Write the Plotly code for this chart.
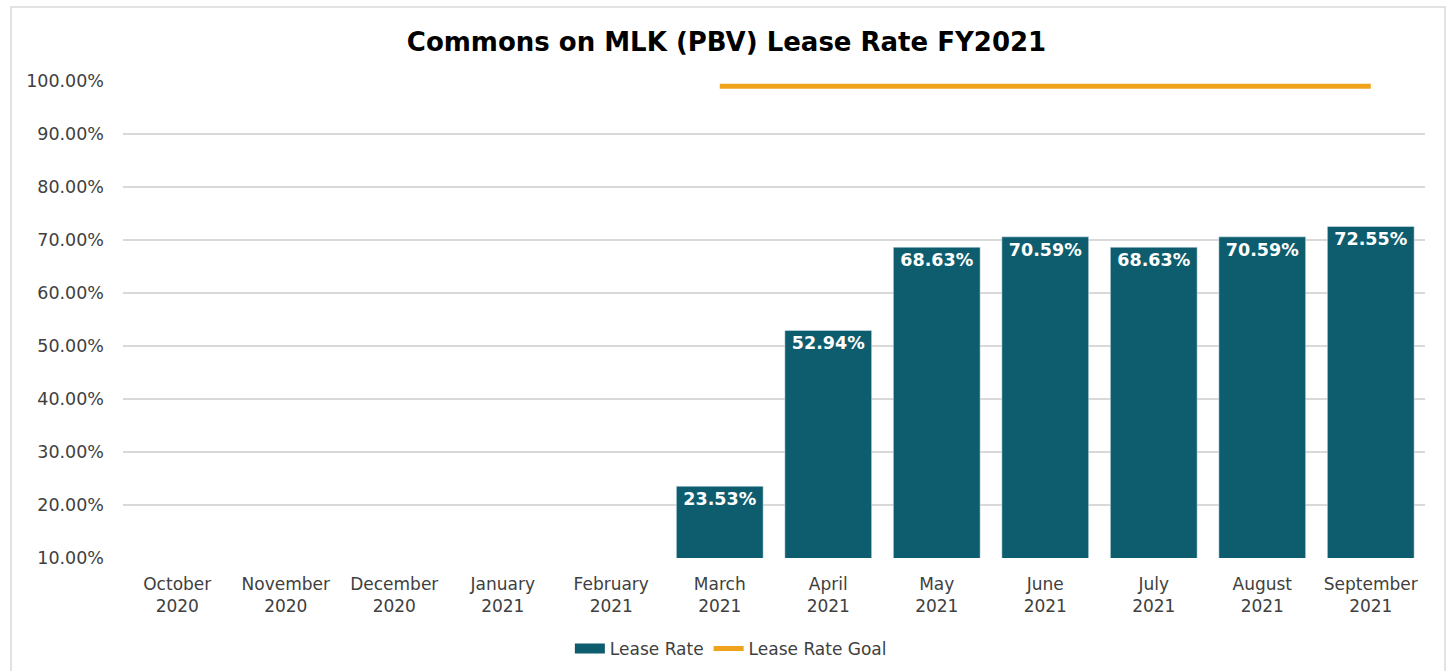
import plotly.graph_objects as go

months = ["October<br>2020", "November<br>2020", "December<br>2020", "January<br>2021",
          "February<br>2021", "March<br>2021", "April<br>2021", "May<br>2021",
          "June<br>2021", "July<br>2021", "August<br>2021", "September<br>2021"]
lease_rate = [None, None, None, None, None, 0.2353, 0.5294, 0.6863, 0.7059, 0.6863, 0.7059, 0.7255]
lease_goal = [None, None, None, None, None, 0.99, 0.99, 0.99, 0.99, 0.99, 0.99, 0.99]
y_ticks = [0.1, 0.2, 0.3, 0.4, 0.5, 0.6, 0.7, 0.8, 0.9, 1.0]

FONT = "DejaVu Sans"
BAR_COLOR = "#0D5D6E"
GOAL_COLOR = "#EFA31C"

fig = go.Figure()
fig.add_trace(go.Bar(
    x=months, y=lease_rate, name="Lease Rate", showlegend=False,
    marker=dict(color=BAR_COLOR),
    text=[f"{v*100:.2f}%" if v is not None else "" for v in lease_rate],
    textposition="inside", insidetextanchor="end",
    textfont=dict(color="white", size=17.5, family=FONT, weight="bold"),
    textangle=0,
))
# legend swatch for the bars (wide rectangle like the original)
fig.add_trace(go.Scatter(
    x=[None], y=[None], name="Lease Rate", mode="lines",
    line=dict(color=BAR_COLOR, width=11),
))
fig.add_trace(go.Scatter(
    x=months, y=lease_goal, name="Lease Rate Goal", mode="lines",
    line=dict(color=GOAL_COLOR, width=5),
))

fig.update_layout(
    width=1453, height=671,
    margin=dict(l=123, r=28, t=81, b=113),
    paper_bgcolor="white", plot_bgcolor="white",
    font=dict(family=FONT, color="#404040", size=17),
    title=dict(text="<b>Commons on MLK (PBV) Lease Rate FY2021</b>",
               x=0.5, xanchor="center", y=0.937, yanchor="middle",
               font=dict(size=26, color="#000000", family=FONT)),
    bargap=0.2,
    showlegend=True,
    legend=dict(orientation="h", xref="container", yref="container",
                x=0.503, xanchor="center", y=0.033, yanchor="middle",
                font=dict(size=17, color="#404040"), itemwidth=30, tracegroupgap=0),
    xaxis=dict(showgrid=False, showline=False, ticks="", automargin=False,
               tickfont=dict(size=17), ticklabelstandoff=14),
    yaxis=dict(range=[0.1, 1.0], tickvals=y_ticks, tickformat=".2%", automargin=False,
               showgrid=True, gridcolor="#D9D9D9", gridwidth=1.5,
               zeroline=False, showline=False, ticks="", ticklabelstandoff=18,
               tickfont=dict(size=17.5)),
    shapes=[dict(type="rect", xref="paper", yref="paper",
                 x0=-0.086, x1=1.0154, y0=-0.25, y1=1.155,
                 line=dict(color="#D9D9D9", width=1.5), layer="below")],
)

fig.write_html("out.html")
